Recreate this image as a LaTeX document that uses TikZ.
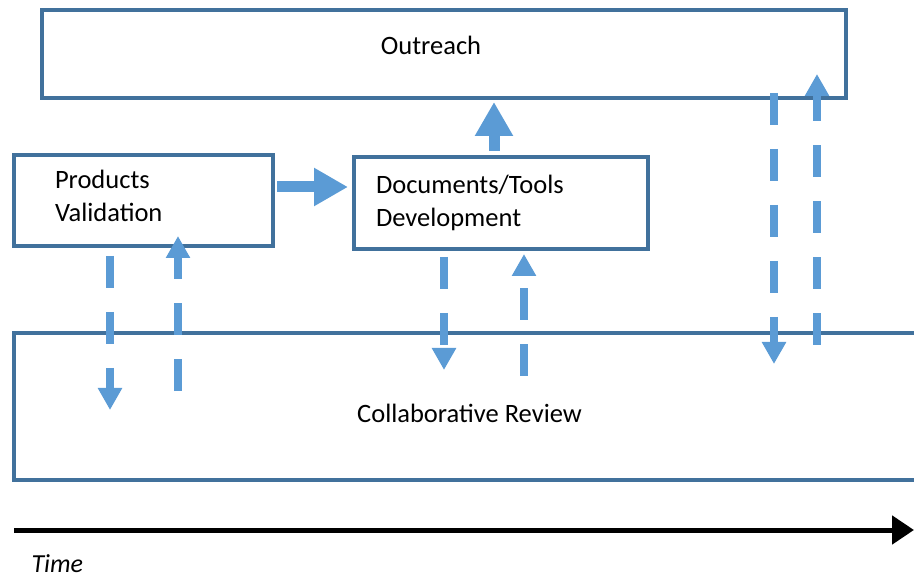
\documentclass[tikz,border=0pt]{standalone}
\usepackage{fontspec}
\setmainfont{Carlito}
\usetikzlibrary{positioning,calc,arrows.meta}
\definecolor{boxblue}{HTML}{41719C}
\definecolor{arrowblue}{HTML}{5B9BD5}

\tikzset{
  stage/.style={draw=boxblue,line width=4pt,inner xsep=0pt,inner ysep=0pt,font=\fontsize{26.5}{33}\selectfont},
  bigarrow/.style={arrowblue,line width=11pt,-{Triangle[length=34pt,width=36pt]}},
  dasharrow/.style={arrowblue,line width=8pt,dash pattern=on 32pt off 24pt,-{Triangle[length=22pt,width=23pt]}},
}

\begin{document}
\begin{tikzpicture}[x=1pt,y=-1pt]
		\useasboundingbox (0,0) rectangle (914,580);
		\node[stage,minimum width=804pt,minimum height=88pt,text height=18pt,text depth=16pt] (out) at (444,54) {\hspace*{-26pt}Outreach};
		\node[stage,minimum width=259pt,minimum height=91pt,text width=177pt,align=left,text depth=43pt] (pv) at (143.5,200.5) {Products\\Validation};
		\node[stage,minimum width=294pt,minimum height=92pt,text width=250pt,align=left,right=77pt of pv,yshift=-2.5pt] (dtd) {Documents/Tools\\Development};
		\node[stage,minimum width=911pt,minimum height=147pt,text height=31pt,text depth=0pt] (cr) at (469.5,406.5) {Collaborative Review};
		\node[font=\fontsize{26}{30}\selectfont\itshape,anchor=west] (time) at (28,564) {Time};
		\coordinate (t0) at (14,530);
		\coordinate (t1) at (914,530);
		
		\draw[bigarrow] ($(pv.east)+(2,-13.5)$) -- ($(dtd.west |- pv.east)+(-4,-13.5)$);
		\draw[bigarrow] ($(dtd.north)+(-7,-4)$) -- ($(out.south -| dtd.north)+(-7,2)$);
		
		\draw[dasharrow] ($(pv.south)+(-33.5,8)$) -- ($(cr.north -| pv.south)+(-33.5,79)$);
		\draw[dasharrow] ($(cr.north -| pv.south)+(34.5,60)$) -- ($(pv.south)+(34.5,-12)$);
		\draw[dasharrow] ($(dtd.south)+(-57,6)$) -- ($(cr.north -| dtd.south)+(-57,39)$);
		\draw[dasharrow] ($(cr.north -| dtd.south)+(23,45)$) -- ($(dtd.south)+(23,3)$);
		\draw[dasharrow] ($(out.south)+(330,-7)$) -- ($(cr.north -| out.south)+(330,33)$);
		\draw[dasharrow] ($(cr.north -| out.south)+(373,14)$) -- ($(out.south)+(373,-26)$);
		
		\draw[line width=5pt,-{Triangle[length=22pt,width=28pt]}] (t0) -- (t1);
	\end{tikzpicture}
\end{document}
